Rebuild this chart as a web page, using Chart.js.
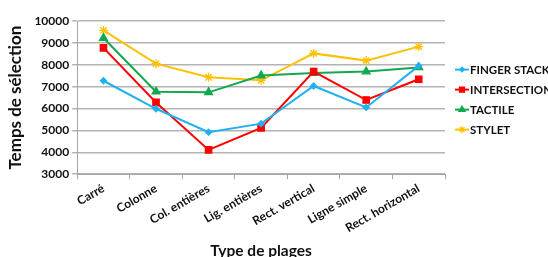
<!DOCTYPE html>
<html><head><meta charset="utf-8">
<script src="https://cdn.jsdelivr.net/npm/chart.js@4/dist/chart.umd.min.js"></script>
<style>html,body{margin:0;padding:0;background:#fff}#wrap{width:548px;height:257px}</style>
</head><body><div id="wrap"><canvas id="c" width="548" height="257"></canvas></div>
<script>
const categories = ["Carré","Colonne","Col. entières","Lig. entières","Rect. vertical","Ligne simple","Rect. horizontal"];
const fingerStack = [7270, 5990, 4920, 5310, 7030, 6050, 7950];
const intersection = [8770, 6280, 4110, 5120, 7690, 6390, 7340];
const tactile = [9220, 6770, 6740, 7510, 7620, 7690, 7880];
const stylet = [9570, 8050, 7430, 7290, 8520, 8190, 8830];
const yTicks = [3000,4000,5000,6000,7000,8000,9000,10000];

const FONT = "Lato, 'Open Sans', sans-serif";
const series = [
  {label:"FINGER STACK", data:fingerStack, color:"#1fb2ee", style:"rectRot", r:3},
  {label:"INTERSECTION", data:intersection, color:"#ff0000", style:"rect", r:4.5},
  {label:"TACTILE", data:tactile, color:"#12a84e", style:"triangle", r:4.5},
  {label:"STYLET", data:stylet, color:"#ffc000", style:"star", r:4.5}
];

const customLegend = {
  id:'customLegend',
  afterDraw(chart){
    const ctx = chart.ctx;
    const ca = chart.chartArea;
    const x0 = ca.right + 10, step = 20;
    const yc = (ca.top + ca.bottom)/2 + 2;
    const y0 = yc - step*1.5;
    ctx.save();
    chart.data.datasets.forEach((ds,i)=>{
      const s = series[i];
      const y = y0 + i*step;
      ctx.strokeStyle = s.color; ctx.fillStyle = s.color; ctx.lineWidth = 2;
      ctx.beginPath(); ctx.moveTo(x0, y); ctx.lineTo(x0+14, y); ctx.stroke();
      ctx.lineWidth = 1.2;
      Chart.helpers.drawPoint(ctx,{pointStyle:s.style, radius:s.r*0.8, rotation:0, borderWidth:1.2}, x0+7, y);
      ctx.fillStyle = '#111';
      ctx.font = "bold 11.5px " + FONT;
      ctx.textBaseline = 'middle'; ctx.textAlign = 'left';
      ctx.fillText(ds.label, x0+15, y+0.5);
    });
    ctx.restore();
  }
};

new Chart(document.getElementById('c'),{
  type:'line',
  data:{labels:categories, datasets:series.map(s=>({
    label:s.label, data:s.data, borderColor:s.color, backgroundColor:s.color,
    pointStyle:s.style, pointRadius:s.r, pointBorderWidth:1.3, pointBorderColor:s.color,
    pointBackgroundColor:s.color, borderWidth:2, tension:0, fill:false
  }))},
  plugins:[customLegend],
  options:{
    responsive:false, animation:false, devicePixelRatio:1,
    layout:{padding:{left:5,right:103,top:21,bottom:-3}},
    plugins:{ tooltip:{enabled:false}, legend:{display:false} },
    scales:{
      x:{
        offset:true,
        grid:{display:true, drawOnChartArea:false, drawTicks:true, tickLength:5, offset:true, color:'#a6a6a6', lineWidth:1},
        border:{display:true, color:'#a6a6a6', width:1},
        ticks:{color:'#111', font:{family:FONT,size:12,weight:'bold'}, minRotation:30, maxRotation:30, autoSkip:false, padding:2},
        title:{display:true, text:'Type de plages', color:'#111', font:{family:FONT,size:15.5,weight:'bold'}, padding:{top:4,bottom:0}}
      },
      y:{
        min:3000, max:10000,
        afterBuildTicks(scale){scale.ticks = yTicks.map(v=>({value:v}));},
        grid:{color:'#b3b3b3', lineWidth:1.5, drawTicks:true, tickLength:5},
        border:{display:true, color:'#a6a6a6', width:1},
        ticks:{color:'#111', font:{family:FONT,size:12,weight:'bold'}, padding:3, callback:v=>String(v)},
        title:{display:true, text:'Temps de sélection', color:'#111', font:{family:FONT,size:17,weight:'bold'}, padding:{top:0,bottom:6}}
      }
    }
  }
});
</script></body></html>
